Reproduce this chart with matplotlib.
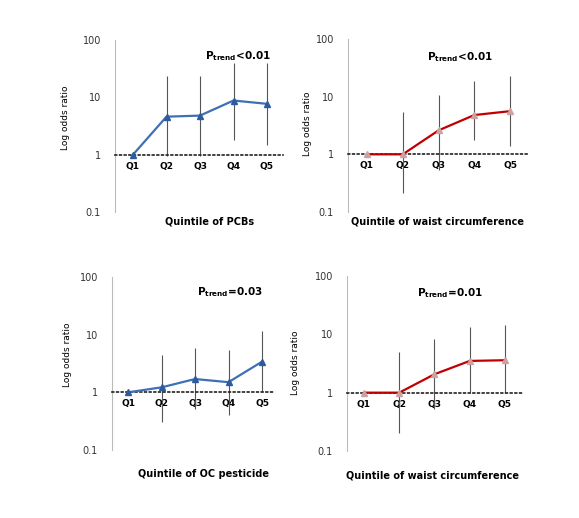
import numpy as np
import matplotlib
matplotlib.use("Agg")
import matplotlib.pyplot as plt

quintiles = ["Q1", "Q2", "Q3", "Q4", "Q5"]
nan = np.nan

# odds ratios and CI
pcb_or = [1, 4.6, 4.8, 8.8, 7.7]
pcb_lo = [nan, 0.95, 0.95, 1.8, 1.5]
pcb_hi = [nan, 23.5, 24, 40, 39]

waist1_or = [1, 1, 2.6, 4.8, 5.6]
waist1_lo = [nan, 0.21, 0.54, 1.8, 1.4]
waist1_hi = [nan, 5.4, 10.6, 19, 22.7]

oc_or = [1, 1.22, 1.7, 1.5, 3.4]
oc_lo = [nan, 0.31, 0.52, 0.4, 1.0]
oc_hi = [nan, 4.5, 5.8, 5.5, 11.7]

waist2_or = [1, 1, 2.07, 3.5, 3.6]
waist2_lo = [nan, 0.2, 0.52, 1.0, 1.0]
waist2_hi = [nan, 4.9, 8.3, 13.6, 14.7]

ptrend = ["<0.01", "<0.01", "=0.03", "=0.01"]
xlabels = ["Quintile of PCBs", "Quintile of waist circumference",
           "Quintile of OC pesticide", "Quintile of waist circumference"]

W, H = 579, 518
fig = plt.figure(figsize=(W / 100, H / 100), dpi=100)
fig.patch.set_facecolor("white")

def fx(px):
    return px / W

def fy(py):
    return 1 - py / H

# axis geometry in pixels: (axis x, Q1 x, Q5 x, right end, top y, bottom y)
geo = [(115, 133, 267, 283, 40, 212),
       (348, 367, 510, 527, 39, 212),
       (112, 128, 262, 275, 277, 450),
       (347, 364, 505, 522, 276, 451)]
series = [(pcb_or, pcb_lo, pcb_hi, "#3F6FB5", "#2E5A9E"),
          (waist1_or, waist1_lo, waist1_hi, "#C00000", "#C9A3A3"),
          (oc_or, oc_lo, oc_hi, "#3F6FB5", "#2E5A9E"),
          (waist2_or, waist2_lo, waist2_hi, "#C00000", "#C9A3A3")]
ptrend_xy = [(238, 56), (460, 57), (230, 292), (450, 293)]
xlab_xy = [(210, 222), (437, 222), (203, 474), (433, 476)]
ylab_xy = [(65, 118), (308, 124), (67, 355), (296, 363)]

x = np.arange(1, 6)
for i in range(4):
    ax0, q1, q5, xe, yt, yb = geo[i]
    sp = (q5 - q1) / 4
    ax = fig.add_axes([fx(ax0), fy(yb), fx(xe - ax0), (yb - yt) / H])
    ax.set_yscale("log")
    ax.set_ylim(0.1, 100)
    ax.set_xlim(1 - (q1 - ax0) / sp, 5 + (xe - q5) / sp)
    ax.set_facecolor("none")

    ors, lo, hi, lc, mc = series[i]
    ax.vlines(x, lo, hi, color="#555555", lw=0.8, zorder=2)
    ax.plot(x, ors, color=lc, lw=1.6, marker="^", ms=4,
            mfc=mc, mec=mc, zorder=3)

    for s in ["top", "right"]:
        ax.spines[s].set_visible(False)
    ax.spines["left"].set_color("#BBBBBB")
    ax.spines["left"].set_linewidth(0.8)
    ax.spines["bottom"].set_position(("data", 1))
    ax.spines["bottom"].set_linestyle((0, (1.0, 1.8)))
    ax.spines["bottom"].set_linewidth(1.2)
    ax.spines["bottom"].set_color("#222222")

    ax.set_yticks([0.1, 1, 10, 100])
    ax.set_yticklabels(["0.1", "1", "10", "100"])
    ax.yaxis.set_minor_locator(matplotlib.ticker.NullLocator())
    ax.tick_params(axis="y", length=0, pad=10, labelsize=7, labelcolor="#333333")
    ax.set_xticks(x)
    ax.set_xticklabels(quintiles, fontweight="bold", fontsize=6.5)
    ax.tick_params(axis="x", length=0, pad=5)

    px, py = ptrend_xy[i]
    fig.text(fx(px), fy(py), r"P$_{\mathbf{trend}}$" + ptrend[i],
             ha="center", va="center", fontsize=7.5, fontweight="bold")
    lx, ly = xlab_xy[i]
    fig.text(fx(lx), fy(ly), xlabels[i], ha="center", va="center",
             fontsize=7, fontweight="bold")
    yx, yy = ylab_xy[i]
    fig.text(fx(yx), fy(yy), "Log odds ratio", ha="center", va="center",
             rotation=90, fontsize=6.5)

fig.savefig("out.png", dpi=100)
